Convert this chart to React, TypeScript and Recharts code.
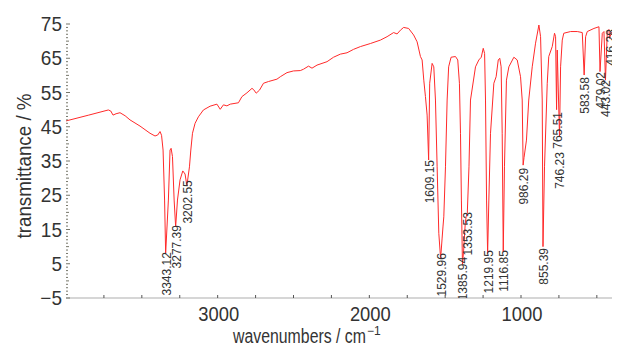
import React from 'react';
import { ComposedChart, Line, Scatter, XAxis, YAxis } from 'recharts';

const FONT = "'Liberation Sans', Arial, sans-serif";
const TEXT = '#333333';

// IR spectrum: wavenumber (cm^-1) and transmittance (%)
const specW = [
  4000, 3850, 3721, 3705, 3690, 3670, 3644, 3610, 3578, 3512, 3446, 3413, 3395, 3380, 3370, 3360, 3350, 3343,
  3325, 3314, 3307, 3298, 3287, 3277, 3265, 3248, 3230, 3215, 3203, 3186, 3177, 3166, 3149, 3127, 3094, 3050,
  3005, 2983, 2962, 2939, 2917, 2863, 2840, 2807, 2774, 2764, 2746, 2724, 2698, 2665, 2609, 2587, 2543, 2500,
  2455, 2434, 2401, 2378, 2345, 2279, 2236, 2191, 2147, 2104, 2059, 1993, 1927, 1883, 1840, 1817, 1795, 1774,
  1741, 1708, 1685, 1663, 1652, 1641, 1630, 1619, 1609, 1602, 1586, 1575, 1564, 1553, 1542, 1530, 1520, 1514,
  1509, 1498, 1487, 1477, 1461, 1432, 1417, 1406, 1399, 1393, 1386, 1378, 1368, 1362, 1354, 1343, 1333, 1300,
  1278, 1262, 1249, 1240, 1234, 1227, 1220, 1212, 1201, 1179, 1164, 1150, 1140, 1131, 1124, 1117, 1109, 1096,
  1080, 1047, 1025, 1003, 992, 986, 980, 964, 949, 926, 904, 882, 871, 860, 855, 845, 827, 817, 794, 779, 772,
  765.5, 761, 746, 739, 728, 718, 673, 629, 596, 583.6, 574, 563, 519, 486, 479, 464, 453, 443, 431, 420, 416.3,
  403, 400,
];
const specT = [
  46.7, 48.4, 49.9, 49.6, 48.4, 48.8, 49.1, 48.2, 47.0, 45.2, 43.1, 42.3, 42.6, 43.6, 42.5, 38.2, 23.6, 8.0,
  23.6, 38.2, 38.7, 36.3, 23.6, 15.8, 23.6, 29.5, 32.1, 31.2, 27.8, 33.3, 38.2, 43.1, 46.0, 47.9, 49.9, 51.0,
  51.6, 50.1, 51.4, 51.1, 51.6, 52.0, 53.8, 54.9, 56.2, 55.9, 54.8, 55.7, 57.7, 58.2, 58.9, 59.6, 60.8, 61.3,
  61.4, 61.8, 62.7, 62.1, 63.0, 64.0, 65.3, 66.2, 66.6, 67.6, 68.4, 69.3, 70.3, 71.3, 72.5, 72.1, 73.2, 74.0,
  73.7, 71.8, 69.8, 65.5, 64.5, 58.6, 53.8, 48.4, 35.3, 57.7, 63.5, 62.5, 52.8, 33.3, 13.9, 6.5, 12.5, 16.0,
  18.7, 33.3, 52.8, 62.5, 65.3, 65.5, 64.5, 57.7, 43.1, 23.6, 4.8, 9.0, 16.5, 18.7, 19.8, 33.3, 52.8, 62.5,
  64.5, 65.3, 67.9, 66.4, 52.8, 23.6, 8.0, 23.6, 43.1, 57.7, 59.6, 64.5, 65.0, 62.5, 43.1, 8.5, 33.3, 58.6,
  62.5, 65.3, 64.5, 59.6, 52.8, 33.8, 36.0, 41.1, 52.8, 62.5, 69.4, 74.7, 71.3, 52.8, 10.0, 33.3, 57.7, 65.5, 68.4, 72.3, 71.3,
  50.0, 67.4, 42.0, 62.5, 70.3, 72.3, 72.8, 72.8, 72.5, 60.1, 71.3, 72.8, 73.7, 74.2, 61.1, 72.3, 72.8, 58.6, 72.8, 73.4, 70.8,
  72.6, 72.5,
];

// peak annotations: position (cm^-1), text, and the transmittance where each label starts
const peakW = [3343.12, 3277.39, 3202.55, 1609.15, 1529.96, 1385.94, 1353.53, 1219.95, 1116.85, 986.29, 855.39, 765.51, 746.23, 583.58, 479.02, 443.02, 416.28];
const peakText = ['3343.12', '3277.39', '3202.55', '1609.15', '1529.96', '1385.94', '1353.53', '1219.95', '1116.85', '986.29', '855.39', '765.51', '746.23', '583.58', '479.02', '443.02', '416.28'];
const peakLabelT = [8.4, 16.3, 29.4, 35.3, 8.1, 7.0, 20.1, 9.0, 9.0, 33.0, 9.6, 49.3, 37.6, 59.5, 61.0, 58.6, 73.5];

const xTicks = [3750, 3500, 3250, 3000, 2750, 2500, 2250, 2000, 1750, 1500, 1250, 1000, 750, 500];
const xLabels = [3000, 2000, 1000];
const yLabels = [-5, 5, 15, 25, 35, 45, 55, 65, 75];
const yTicks = Array.from({ length: 81 }, (_, i) => i - 5);

const specData = specW.map((w, i) => ({ w, t: specT[i] }));
const peakData = peakW.map((w, i) => ({ w, t: peakLabelT[i], label: peakText[i] }));

const XTick = (props: any) => {
  const { x, y, payload } = props;
  const v = payload.value;
  return (
    <g>
      <line x1={x} x2={x} y1={y} y2={y - 3} stroke="#555" strokeWidth={1} />
      {xLabels.includes(v) && (
        <text
          transform={`translate(${x + 1},${y + 23}) scale(0.92,1)`}
          textAnchor="middle"
          fill={TEXT}
          fontSize={20}
          fontFamily={FONT}
        >
          {v}
        </text>
      )}
    </g>
  );
};

const YTick = (props: any) => {
  const { x, y, payload } = props;
  const v = payload.value;
  const major = yLabels.includes(v);
  const mid = (v + 100) % 5 === 0;
  const len = major ? 4 : mid ? 3 : 2;
  return (
    <g>
      <line x1={x} x2={x + len} y1={y} y2={y} stroke="#77776a" strokeWidth={1} />
      {major && (
        <text
          transform={`translate(${x - 4},${y + 7}) scale(0.95,1)`}
          textAnchor="end"
          fill={TEXT}
          fontSize={20}
          fontFamily={FONT}
        >
          {v < 0 ? '\u2212' + Math.abs(v) : String(v)}
        </text>
      )}
    </g>
  );
};

const PeakLabel = (props: any) => {
  const { cx, cy, payload } = props;
  if (cx == null || cy == null) return null;
  return (
    <text
      x={cx + 1}
      y={cy}
      transform={`rotate(-90 ${cx + 1} ${cy})`}
      textAnchor="end"
      dominantBaseline="central"
      fill={TEXT}
      fontSize={12}
      fontFamily={FONT}
    >
      {payload.label}
    </text>
  );
};

const XTitle = () => (
  <text x={233} y={343} fill={TEXT} fontSize={20} fontFamily={FONT}>
    <tspan textLength={133} lengthAdjust="spacingAndGlyphs">wavenumbers / cm</tspan>
    <tspan dx={1} dy={-8} fontSize={12}>{'\u22121'}</tspan>
  </text>
);

const YTitle = () => (
  <text
    transform="rotate(-90)"
    x={-166}
    y={31}
    textAnchor="middle"
    textLength={145}
    lengthAdjust="spacingAndGlyphs"
    fill={TEXT}
    fontSize={21}
    fontFamily={FONT}
  >
    transmittance / %
  </text>
);

export default function App() {
  return (
    <div style={{ position: 'absolute', left: 0, top: 0, background: '#fff' }}>
      <ComposedChart width={619} height={349} margin={{ top: 24, right: 7, left: 0, bottom: 0 }}>
        <XAxis
          dataKey="w"
          type="number"
          domain={[400, 4000]}
          reversed
          ticks={xTicks}
          interval={0}
          tickSize={0}
          tickMargin={0}
          tick={<XTick />}
          axisLine={{ stroke: '#c8c8c8', strokeWidth: 1.5 }}
          height={51}
          allowDataOverflow
          label={<XTitle />}
        />
        <XAxis
          xAxisId="top"
          orientation="top"
          type="number"
          domain={[400, 4000]}
          reversed
          tick={false}
          tickLine={false}
          axisLine={{ stroke: '#c8c8c8', strokeWidth: 1.5 }}
          height={0}
        />
        <YAxis
          type="number"
          domain={[-5, 75]}
          ticks={yTicks}
          interval={0}
          tickSize={0}
          tickMargin={0}
          tick={<YTick />}
          axisLine={false}
          width={66}
          allowDataOverflow
          label={<YTitle />}
        />
        <YAxis
          yAxisId="right"
          orientation="right"
          type="number"
          domain={[-5, 75]}
          tick={false}
          tickLine={false}
          axisLine={{ stroke: '#c8c8c8', strokeWidth: 1.5 }}
          width={0}
        />
        <Line
          data={specData}
          dataKey="t"
          type="linear"
          stroke="#ff2a2a"
          strokeWidth={1}
          dot={false}
          activeDot={false}
          isAnimationActive={false}
        />
        <Scatter data={peakData} dataKey="t" shape={<PeakLabel />} isAnimationActive={false} />
      </ComposedChart>
    </div>
  );
}
